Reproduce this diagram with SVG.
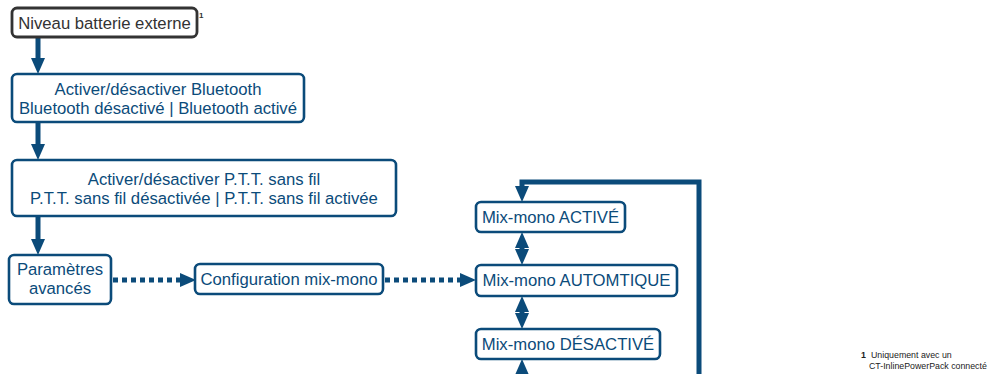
<svg xmlns="http://www.w3.org/2000/svg" width="989" height="374" viewBox="0 0 989 374">
<defs>
<style>
.box{fill:#fff;stroke:#0b4b7a;stroke-width:2.6}
.gbox{fill:#fff;stroke:#333;stroke-width:2.8}
.t{font-family:"Liberation Sans",Arial,sans-serif;font-size:16.7px;fill:#0b4b7a;text-anchor:middle}
.g{fill:#333}
.c{fill:none;stroke:#0b4b7a;stroke-width:5}
.d{stroke-dasharray:5 4}
.fn{font-family:"Liberation Sans",Arial,sans-serif;font-size:8.8px;fill:#222}
</style>
<marker id="ah" markerUnits="userSpaceOnUse" markerWidth="16" markerHeight="14" refX="0" refY="7" orient="auto-start-reverse" viewBox="0 0 16 14">
<path d="M0,0 L16,7 L0,14 z" fill="#0b4b7a"/>
</marker>
</defs>
<g id="connectors">
<path class="c" d="M38,37 V58" marker-end="url(#ah)"/>
<path class="c" d="M38,122 V144" marker-end="url(#ah)"/>
<path class="c" d="M38,216 V239" marker-end="url(#ah)"/>
<path class="c d" d="M113,280 H180" marker-end="url(#ah)"/>
<path class="c d" d="M385,280 H460" marker-end="url(#ah)"/>
<path class="c" d="M522,248 V249" marker-start="url(#ah)" marker-end="url(#ah)"/>
<path class="c" d="M522,312 V313" marker-start="url(#ah)" marker-end="url(#ah)"/>
<path class="c" d="M522,375 V420 H699 V182 H522 V186" marker-end="url(#ah)"/>
<path class="c" d="M522,380 V375" marker-end="url(#ah)"/>
</g>
<g id="n1"><rect class="gbox" x="12" y="8" width="185" height="29" rx="5"/><text class="t g" x="104.5" y="28.5">Niveau batterie externe</text>
<text x="199" y="18" style="font-family:'Liberation Sans',Arial,sans-serif;font-size:8px;font-weight:bold;fill:#333">1</text></g>
<g id="n2"><rect class="box" x="12" y="74" width="292" height="48" rx="5"/><text class="t" x="158" y="95">Activer/désactiver Bluetooth</text><text class="t" x="158" y="114">Bluetooth désactivé | Bluetooth activé</text></g>
<g id="n3"><rect class="box" x="12" y="160" width="384" height="56" rx="5"/><text class="t" x="204" y="185">Activer/désactiver P.T.T. sans fil</text><text class="t" x="204" y="204">P.T.T. sans fil désactivée | P.T.T. sans fil activée</text></g>
<g id="n4"><rect class="box" x="9" y="255" width="102" height="49" rx="5"/><text class="t" x="60" y="275">Paramètres</text><text class="t" x="60" y="294">avancés</text></g>
<g id="n5"><rect class="box" x="195" y="264" width="188" height="30" rx="5"/><text class="t" x="289" y="285">Configuration mix-mono</text></g>
<g id="n6"><rect class="box" x="476" y="202" width="149" height="30" rx="5"/><text class="t" x="550.5" y="223">Mix-mono ACTIVÉ</text></g>
<g id="n7"><rect class="box" x="476" y="265" width="201" height="31" rx="5"/><text class="t" x="576.5" y="286">Mix-mono AUTOMTIQUE</text></g>
<g id="n8"><rect class="box" x="476" y="329" width="184" height="30" rx="5"/><text class="t" x="568" y="350">Mix-mono DÉSACTIVÉ</text></g>
<g id="footnote">
<text class="fn" x="861" y="358" style="font-weight:bold">1</text>
<text class="fn" x="871" y="358">Uniquement avec un</text>
<text class="fn" x="869" y="369">CT-InlinePowerPack connecté</text>
</g>
</svg>
